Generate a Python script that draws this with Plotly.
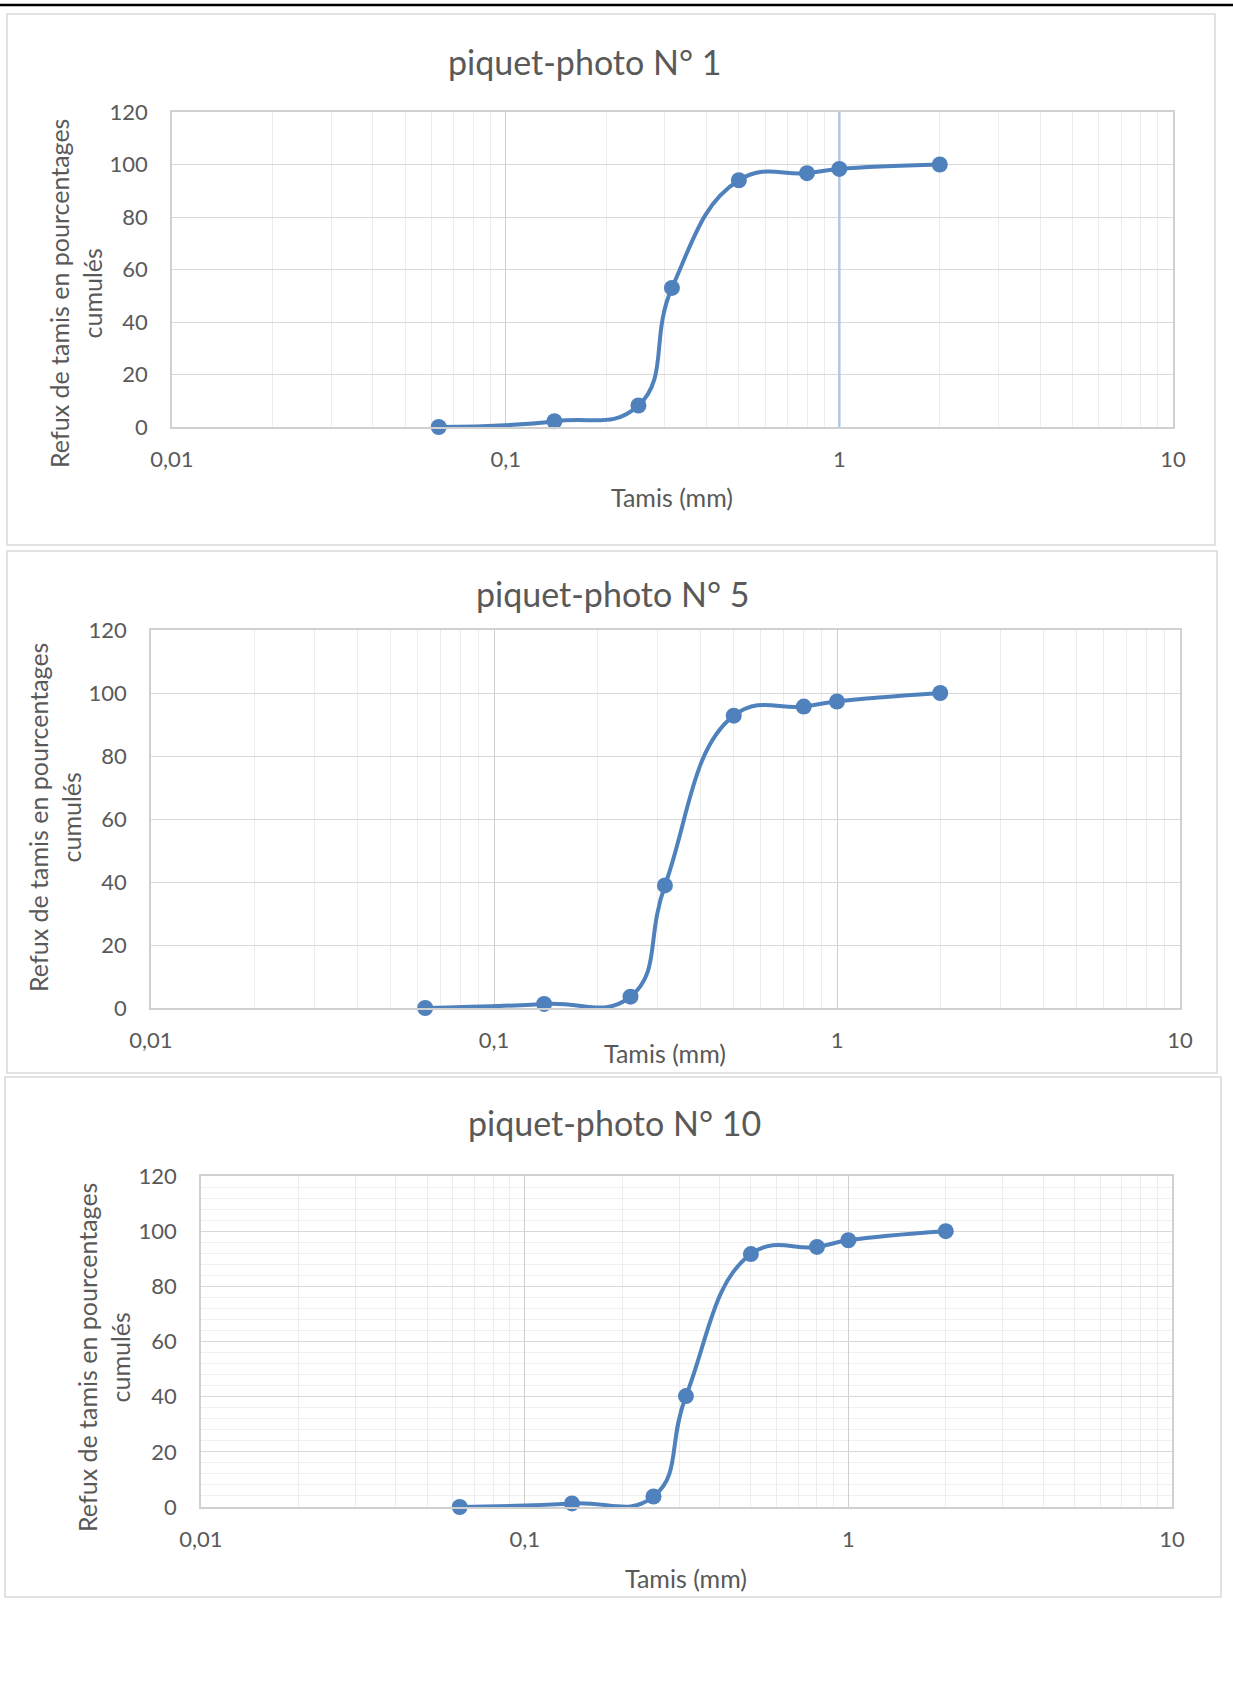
import plotly.graph_objects as go

W, H = 1233, 1707

# ---------------- data ----------------
sieve_mm = [0.063, 0.14, 0.25, 0.315, 0.5, 0.8, 1, 2]
refus_p1 = [0, 2.2, 8.2, 53, 94, 96.7, 98.3, 100]
refus_p5 = [0, 1.3, 3.6, 38.9, 92.8, 95.7, 97.3, 100]
refus_p10 = [0, 1.3, 3.8, 40.2, 91.7, 94.3, 96.7, 100]
titles = ["piquet-photo N° 1", "piquet-photo N° 5", "piquet-photo N° 10"]
x_tick_vals = [0.01, 0.1, 1, 10]
x_tick_text = ["0,01", "0,1", "1", "10"]
y_tick_vals = [0, 20, 40, 60, 80, 100, 120]
x_title = "Tamis (mm)"
y_title = "Refux de tamis en pourcentages<br>cumulés"
series = [refus_p1, refus_p5, refus_p10]
highlight_x = [1, 1]          # selected vertical gridline in chart 1
highlight_y = [0, 120]

# minor log gridlines (2..9 of every decade)
x_minor_vals = [m * d for d in (0.01, 0.1, 1) for m in range(2, 10)]

# ---------------- layout (pixels) ----------------
panels = [
    dict(box=(7, 14, 1215, 545), plot=(172, 112, 1173, 427),
         title=(584, 62), xt=(672, 497), yt=(76, 294), yminor=False),
    dict(box=(7, 551, 1217, 1073), plot=(151, 630, 1180, 1008),
         title=(612, 594), xt=(665, 1053), yt=(54, 818), yminor=False),
    dict(box=(5, 1077, 1221, 1597), plot=(201, 1176, 1172, 1507),
         title=(614, 1122), xt=(686, 1578), yt=(103, 1358), yminor=True),
]

BLUE = "#4F81BD"
TXT = "#595959"
FONT = "Lato"

fig = go.Figure()
shapes = []
annotations = []

# highlighted gridline at x = 1 in chart 1 (drawn under the curve)
fig.add_trace(go.Scatter(
    x=highlight_x, y=highlight_y, mode="lines",
    line=dict(color="#b4c7e7", width=2.5),
    xaxis="x", yaxis="y", showlegend=False, hoverinfo="skip",
))

for i, (vals, ttl, pn) in enumerate(zip(series, titles, panels)):
    n = i + 1
    xs = "" if n == 1 else str(n)
    xa, ya = "x" + xs, "y" + xs
    L, T, R, B = pn["plot"]

    fig.add_trace(go.Scatter(
        x=sieve_mm, y=vals, mode="lines+markers",
        line=dict(color=BLUE, width=4, shape="spline", smoothing=1.3),
        marker=dict(size=16, color=BLUE),
        xaxis=xa, yaxis=ya, showlegend=False, cliponaxis=False,
        hoverinfo="x+y",
    ))

    fig.layout["xaxis" + xs] = dict(
        type="log", range=[-2, 1], domain=[L / W, R / W], anchor=ya,
        tickmode="array", tickvals=x_tick_vals, ticktext=x_tick_text,
        showgrid=True, gridcolor="#cfcfcf", gridwidth=1.2,
        minor=dict(tickvals=x_minor_vals, showgrid=True,
                   gridcolor="#ececec", gridwidth=1.2, ticks=""),
        showline=True, linecolor="#d0d0d0", linewidth=1.5, mirror=True,
        ticks="", ticklen=0, ticklabelstandoff=12, automargin=False,
        tickfont=dict(family=FONT, size=22, color=TXT),
        zeroline=False, fixedrange=True,
    )
    ymin = dict(dtick=4, showgrid=True, gridcolor="#efefef",
                gridwidth=1, ticks="") if pn["yminor"] else dict(showgrid=False)
    fig.layout["yaxis" + xs] = dict(
        range=[0, 120], domain=[1 - B / H, 1 - T / H], anchor=xa,
        tickmode="array", tickvals=y_tick_vals,
        showgrid=True, gridcolor="#d9d9d9", gridwidth=1.3,
        minor=ymin,
        showline=True, linecolor="#d0d0d0", linewidth=1.5, mirror=True,
        ticks="", ticklen=0, ticklabelstandoff=18, automargin=False,
        tickfont=dict(family=FONT, size=22, color=TXT),
        zeroline=False, fixedrange=True,
    )

    # chart outer frame
    bx0, by0, bx1, by1 = pn["box"]
    shapes.append(dict(type="rect", xref="paper", yref="paper",
                       x0=bx0 / W, x1=bx1 / W, y0=1 - by1 / H, y1=1 - by0 / H,
                       line=dict(color="#d9d9d9", width=1.5),
                       fillcolor="rgba(0,0,0,0)", layer="below"))

    tx, ty = pn["title"]
    annotations.append(dict(text=ttl, xref="paper", yref="paper",
                            x=tx / W, y=1 - ty / H, xanchor="center",
                            yanchor="middle", showarrow=False,
                            font=dict(family=FONT, size=34, color=TXT)))
    ax_, ay_ = pn["xt"]
    annotations.append(dict(text=x_title, xref="paper", yref="paper",
                            x=ax_ / W, y=1 - ay_ / H, xanchor="center",
                            yanchor="middle", showarrow=False,
                            font=dict(family=FONT, size=25, color=TXT)))
    yx, yy = pn["yt"]
    annotations.append(dict(text=y_title, xref="paper", yref="paper",
                            x=yx / W, y=1 - yy / H, xanchor="center",
                            yanchor="middle", showarrow=False, textangle=-90,
                            font=dict(family=FONT, size=25, color=TXT)))

# page rule at the top
shapes.append(dict(type="line", xref="paper", yref="paper", x0=0, x1=1,
                   y0=1 - 5 / H, y1=1 - 5 / H,
                   line=dict(color="black", width=2.5)))

fig.update_layout(
    template="none",
    width=W, height=H, margin=dict(l=0, r=0, t=0, b=0, pad=0),
    autosize=False,
    paper_bgcolor="white", plot_bgcolor="white",
    shapes=shapes, annotations=annotations,
    font=dict(family=FONT, color=TXT),
)

fig.write_html(
    "out.html",
    config={"displayModeBar": False},
    post_script="document.body.style.margin='0px';"
                "document.documentElement.style.overflow='hidden';",
)
